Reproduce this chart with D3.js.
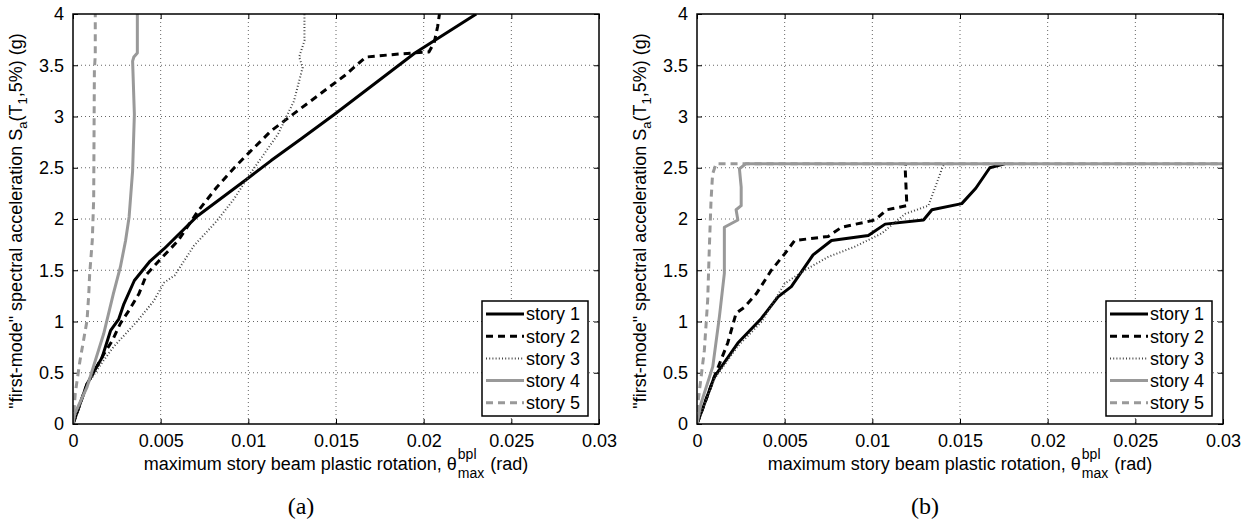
<!DOCTYPE html>
<html><head><meta charset="utf-8">
<script src="https://cdn.jsdelivr.net/npm/d3@7"></script>
<style>body{margin:0;background:#fff}svg{display:block}</style>
</head><body>
<svg id="c" width="1250" height="525"></svg>
<script>
const xTicks = [0, 0.005, 0.01, 0.015, 0.02, 0.025, 0.03];
const xTickLabels = ["0", "0.005", "0.01", "0.015", "0.02", "0.025", "0.03"];
const yTicks = [0, 0.5, 1, 1.5, 2, 2.5, 3, 3.5, 4];
const yTickLabels = ["0", "0.5", "1", "1.5", "2", "2.5", "3", "3.5", "4"];
const seriesNames = ["story 1", "story 2", "story 3", "story 4", "story 5"];
const panelLabels = ["(a)", "(b)"];

// panel (a): [theta, Sa]
const a_story1 = [[0,0],[0.0008,0.39],[0.00166,0.65],[0.00214,0.91],[0.0026,1.02],[0.0029,1.17],[0.0035,1.40],[0.0044,1.59],[0.0052,1.71],[0.0071,2.03],[0.0100,2.40],[0.0113,2.57],[0.0130,2.78],[0.0149,3.02],[0.0195,3.62],[0.0230,4.0]];
const a_story2 = [[0,0],[0.0008,0.39],[0.00175,0.68],[0.00223,0.81],[0.0027,0.98],[0.0032,1.11],[0.00376,1.27],[0.0042,1.46],[0.0050,1.61],[0.0060,1.79],[0.0071,2.07],[0.0082,2.31],[0.0092,2.50],[0.0100,2.64],[0.0113,2.86],[0.0130,3.08],[0.0155,3.40],[0.0167,3.58],[0.0186,3.61],[0.0203,3.63],[0.0206,3.72],[0.0208,3.88],[0.0209,4.0]];
const a_story3 = [[0,0],[0.0008,0.38],[0.00166,0.60],[0.0023,0.75],[0.0037,1.01],[0.0046,1.20],[0.0052,1.38],[0.0058,1.45],[0.0069,1.74],[0.0082,1.98],[0.0092,2.20],[0.0101,2.44],[0.0117,2.83],[0.0126,3.15],[0.0131,3.48],[0.0129,3.58],[0.0132,3.74],[0.0132,4.0]];
const a_story4 = [[0,0],[0.0001,0.1],[0.0008,0.36],[0.00175,0.88],[0.0023,1.27],[0.0027,1.53],[0.0030,1.79],[0.0032,2.02],[0.0034,2.47],[0.0035,3.02],[0.0034,3.54],[0.00347,3.58],[0.00367,3.62],[0.00367,4.0]];
const a_story5 = [[0,0],[0.00013,0.3],[0.0004,0.62],[0.0008,1.01],[0.0009,1.27],[0.00095,1.46],[0.0011,1.79],[0.00118,2.2],[0.00122,3.45],[0.00127,3.6],[0.00127,4.0]];

// panel (b)
const b_story1 = [[0,0],[0.00099,0.46],[0.00233,0.79],[0.00367,1.03],[0.00462,1.24],[0.00538,1.34],[0.00662,1.65],[0.00767,1.79],[0.00977,1.84],[0.01073,1.95],[0.01292,1.99],[0.0134,2.09],[0.0151,2.15],[0.0159,2.30],[0.0167,2.50],[0.0176,2.54]];
const b_story2 = [[0,0],[0.00099,0.46],[0.00175,0.79],[0.00223,1.08],[0.00271,1.14],[0.00338,1.27],[0.00424,1.50],[0.0050,1.66],[0.00557,1.79],[0.00748,1.83],[0.00825,1.92],[0.01015,1.99],[0.01082,2.09],[0.01197,2.13],[0.01187,2.51],[0.0119,2.54]];
const b_story3 = [[0,0],[0.00099,0.44],[0.00233,0.76],[0.0037,1.0],[0.0050,1.37],[0.00614,1.50],[0.00748,1.63],[0.0090,1.73],[0.01054,1.86],[0.01187,2.05],[0.0132,2.13],[0.01359,2.31],[0.01397,2.49],[0.0141,2.54]];
const b_story4 = [[0,0],[0.00023,0.2],[0.0009,0.56],[0.00128,1.05],[0.00156,1.47],[0.00156,1.92],[0.00233,1.99],[0.00223,2.09],[0.00252,2.13],[0.00252,2.31],[0.00242,2.49],[0.0028,2.54],[0.03,2.54]];
const b_story5 = [[0,0],[0.00005,0.2],[0.00042,0.72],[0.00061,1.21],[0.0007,1.70],[0.0008,2.18],[0.00089,2.44],[0.00109,2.54],[0.03,2.54]];

const styles = [
  {stroke:"#000", w:3, dash:null},
  {stroke:"#000", w:3, dash:"7,5"},
  {stroke:"#444", w:2, dash:"1,2.2"},
  {stroke:"#999", w:3, dash:null},
  {stroke:"#999", w:3, dash:"7,5"}
];

const SANS = '"Liberation Sans",Arial,sans-serif';
const SERIF = '"Liberation Serif","Times New Roman",serif';

const svg = d3.select("#c");
const panels = [
  {x0:73, x1:599, data:[a_story1,a_story2,a_story3,a_story4,a_story5], label:panelLabels[0]},
  {x0:697, x1:1223, data:[b_story1,b_story2,b_story3,b_story4,b_story5], label:panelLabels[1]}
];
const yTop = 14, yBot = 424;

panels.forEach((p, pi) => {
  const x = d3.scaleLinear().domain([0, 0.03]).range([p.x0, p.x1]);
  const y = d3.scaleLinear().domain([0, 4]).range([yBot, yTop]);
  const g = svg.append("g").style("font-family", SANS);
  const clipId = "clip" + pi;
  svg.append("clipPath").attr("id", clipId).append("rect")
    .attr("x", p.x0).attr("y", yTop).attr("width", p.x1 - p.x0).attr("height", yBot - yTop);

  // grid
  g.append("g").selectAll("line").data(xTicks.slice(1, -1)).join("line")
    .attr("x1", d => x(d)).attr("x2", d => x(d)).attr("y1", yTop).attr("y2", yBot)
    .attr("stroke", "#666").attr("stroke-width", 1).attr("stroke-dasharray", "1,3");
  g.append("g").selectAll("line").data(yTicks.slice(1, -1)).join("line")
    .attr("y1", d => y(d)).attr("y2", d => y(d)).attr("x1", p.x0).attr("x2", p.x1)
    .attr("stroke", "#666").attr("stroke-width", 1).attr("stroke-dasharray", "1,3");

  // axes (ticks inward, labels)
  const xb = g.append("g").attr("transform", `translate(0,${yBot})`)
    .call(d3.axisBottom(x).tickValues(xTicks).tickFormat((d, i) => xTickLabels[i]).tickSizeInner(-5).tickSizeOuter(0).tickPadding(10));
  const xt = g.append("g").attr("transform", `translate(0,${yTop})`)
    .call(d3.axisTop(x).tickValues(xTicks).tickFormat("").tickSizeInner(-5).tickSizeOuter(0));
  const yl = g.append("g").attr("transform", `translate(${p.x0},0)`)
    .call(d3.axisLeft(y).tickValues(yTicks).tickFormat((d, i) => yTickLabels[i]).tickSizeInner(-5).tickSizeOuter(0).tickPadding(9));
  const yr = g.append("g").attr("transform", `translate(${p.x1},0)`)
    .call(d3.axisRight(y).tickValues(yTicks).tickFormat("").tickSizeInner(-5).tickSizeOuter(0));
  [xb, xt, yl, yr].forEach(a => {
    a.attr("font-family", null).attr("font-size", null);
    a.select(".domain").remove();
    a.selectAll("line").attr("stroke", "#000").attr("stroke-width", 1);
    a.selectAll("text").style("font-size", "18px").style("font-family", SANS).attr("fill", "#000");
  });

  // series
  const line = d3.line().x(d => x(d[0])).y(d => y(d[1]));
  p.data.forEach((s, i) => {
    const st = styles[i];
    g.append("path").datum(s).attr("d", line).attr("fill", "none")
      .attr("clip-path", `url(#${clipId})`)
      .attr("stroke", st.stroke).attr("stroke-width", st.w)
      .attr("stroke-linejoin", "round")
      .attr("stroke-dasharray", st.dash);
  });

  // box
  g.append("rect").attr("x", p.x0).attr("y", yTop).attr("width", p.x1 - p.x0).attr("height", yBot - yTop)
    .attr("fill", "none").attr("stroke", "#000").attr("stroke-width", 1.5);

  // legend
  const lx = p.x1 - 117, ly = 301, lw = 106, lh = 115;
  const lg = g.append("g");
  lg.append("rect").attr("x", lx).attr("y", ly).attr("width", lw).attr("height", lh)
    .attr("fill", "#fff").attr("stroke", "#000").attr("stroke-width", 1.5);
  seriesNames.forEach((n, i) => {
    const cy = ly + 13 + i * 22.2;
    const st = styles[i];
    lg.append("line").attr("x1", lx + 4).attr("x2", lx + 42).attr("y1", cy).attr("y2", cy)
      .attr("stroke", st.stroke).attr("stroke-width", st.w).attr("stroke-dasharray", st.dash);
    lg.append("text").attr("x", lx + 44).attr("y", cy).attr("dy", "0.35em").style("font-size", "18px").text(n);
  });

  // x label with stacked super/subscript
  const xlg = g.append("g");
  const t1 = xlg.append("text").attr("x", 0).attr("y", 0).style("font-size", "18px").text("maximum story beam plastic rotation, θ");
  const w1 = t1.node().getComputedTextLength();
  const sup = xlg.append("text").attr("x", w1 + 1).attr("y", -11).style("font-size", "14px").text("bpl");
  const sub = xlg.append("text").attr("x", w1 + 1).attr("y", 8).style("font-size", "14px").text("max");
  const w2 = Math.max(sup.node().getComputedTextLength(), sub.node().getComputedTextLength());
  const t3 = xlg.append("text").attr("x", w1 + w2 + 7).attr("y", 0).style("font-size", "18px").text("(rad)");
  const W = w1 + w2 + 7 + t3.node().getComputedTextLength();
  xlg.attr("transform", `translate(${(p.x0 + p.x1) / 2 - W / 2},470)`);

  // y label
  const ylt = g.append("text").attr("transform", `translate(${p.x0 - 51},${(yTop + yBot) / 2 + 2}) rotate(-90)`)
    .attr("text-anchor", "middle").style("font-size", "18px");
  ylt.append("tspan").text('"first-mode" spectral acceleration S');
  ylt.append("tspan").style("font-size", "13px").attr("dy", 5).text("a");
  ylt.append("tspan").attr("dy", -5).text("(T");
  ylt.append("tspan").style("font-size", "13px").attr("dy", 5).text("1");
  ylt.append("tspan").attr("dy", -5).text(",5%) (g)");

  // panel label
  svg.append("text").attr("x", p.x0 + 228).attr("y", 514).attr("text-anchor", "middle")
    .style("font-family", SERIF).style("font-size", "24px").text(p.label);
});
</script>
</body></html>
